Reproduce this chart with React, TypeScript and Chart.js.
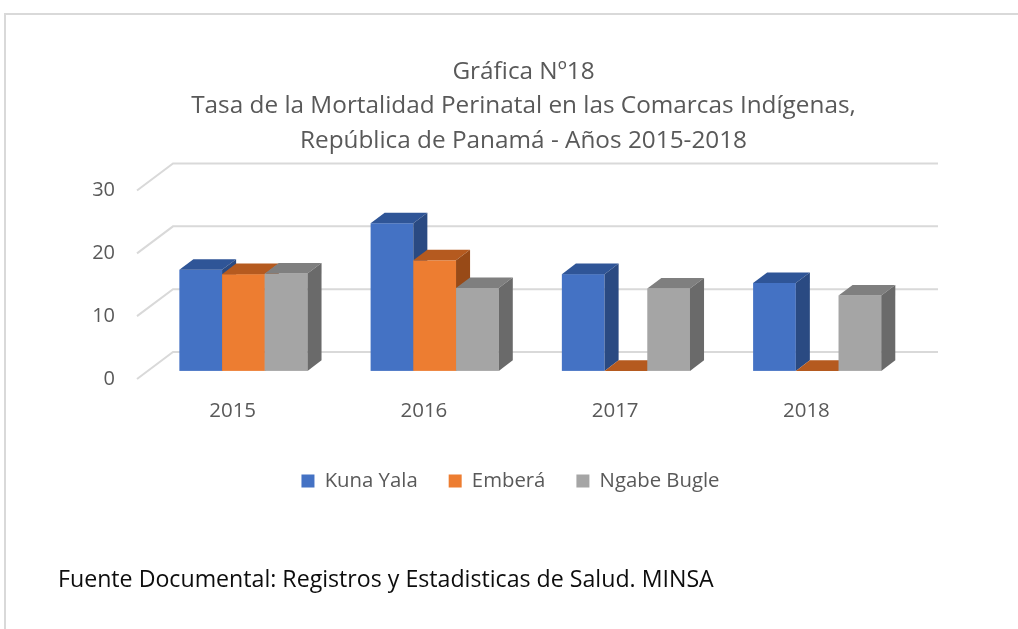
import React, { useEffect, useRef } from "react";
import { Chart, registerables } from "chart.js";

Chart.register(...registerables);

const categories = ["2015", "2016", "2017", "2018"];
const seriesNames = ["Kuna Yala", "Emberá", "Ngabe Bugle"];
const kunaYala = [16.1, 23.5, 15.4, 14.0];
const embera = [15.4, 17.6, 0, 0];
const ngabeBugle = [15.5, 13.2, 13.1, 12.0];
const yMin = 0;
const yMax = 30;
const yStep = 10;
const titleLines = [
  "Gráfica Nº18",
  "Tasa de la Mortalidad Perinatal en las Comarcas Indígenas,",
  "República de Panamá - Años 2015-2018",
];
const sourceNote = "Fuente Documental: Registros y Estadisticas de Salud. MINSA";

const faceColors = ["#4472C4", "#ED7D31", "#A5A5A5"];
const topColors = ["#2F5597", "#B55A1F", "#7F7F7F"];
const sideColors = ["#2A4A82", "#984A17", "#6A6A6A"];

const TEXT = "#595959";
const FONT = "'Open Sans', 'Noto Sans', sans-serif";

// oblique depth of the floor and of the bars
const DEPTH_X = 36;
const DEPTH_Y = 27;
const BAR_FRONT = 0.3;
const BAR_BACK = 0.69;

// vertical layout targets
const CANVAS_H = 629;
const AREA_BOTTOM = 379;
const LEGEND_CENTER = 481;
const LEGEND_PAD = 31;

function fitFontSize(text: string, width: number) {
  const c = document.createElement("canvas").getContext("2d") as CanvasRenderingContext2D;
  c.font = `100px ${FONT}`;
  const w = c.measureText(text).width;
  return w > 0 ? (100 * width) / w : 20;
}

function poly(ctx: CanvasRenderingContext2D, pts: number[][], color: string) {
  ctx.fillStyle = color;
  ctx.beginPath();
  ctx.moveTo(pts[0][0], pts[0][1]);
  for (let i = 1; i < pts.length; i++) ctx.lineTo(pts[i][0], pts[i][1]);
  ctx.closePath();
  ctx.fill();
}

const threeDPlugin = {
  id: "threeD",
  afterLayout(chart: any) {
    if (chart.titleBlock) { chart.titleBlock.left += 4; chart.titleBlock.right += 4; }
    if (chart.legend) { chart.legend.left -= 9; chart.legend.right -= 9; }
  },
  beforeDatasetsDraw(chart: any) {
    const { ctx, chartArea, scales } = chart;
    const ys = scales.y;
    ctx.save();
    ctx.strokeStyle = "#D9D9D9";
    ctx.lineWidth = 2;
    ys.ticks.forEach((t: any) => {
      const py = ys.getPixelForValue(t.value);
      ctx.beginPath();
      ctx.moveTo(chartArea.left, py);
      ctx.lineTo(chartArea.left + DEPTH_X, py - DEPTH_Y);
      ctx.lineTo(chartArea.right + DEPTH_X, py - DEPTH_Y);
      ctx.stroke();
    });
    const fx = BAR_FRONT * DEPTH_X;
    const fy = BAR_FRONT * DEPTH_Y;
    const bx = (BAR_BACK - BAR_FRONT) * DEPTH_X;
    const by = (BAR_BACK - BAR_FRONT) * DEPTH_Y;
    const n = chart.data.labels.length;
    for (let i = 0; i < n; i++) {
      for (let d = 0; d < chart.data.datasets.length; d++) {
        const el = chart.getDatasetMeta(d).data[i];
        const p = el.getProps(["x", "y", "base", "width"], true);
        const x0 = p.x - p.width / 2 + fx;
        const x1 = p.x + p.width / 2 + fx;
        const t = p.y - fy;
        const b = p.base - fy;
        ctx.fillStyle = faceColors[d];
        ctx.fillRect(x0, t, x1 - x0, b - t);
        poly(ctx, [[x0, t], [x1, t], [x1 + bx, t - by], [x0 + bx, t - by]], topColors[d]);
        poly(ctx, [[x1, t], [x1 + bx, t - by], [x1 + bx, b - by], [x1, b]], sideColors[d]);
      }
    }
    ctx.restore();
    return false;
  },
};

export default function App() {
  const canvasRef = useRef<HTMLCanvasElement>(null);
  const noteRef = useRef<HTMLDivElement>(null);

  useEffect(() => {
    if (noteRef.current) {
      noteRef.current.style.fontSize = `${fitFontSize(sourceNote, 656)}px`;
    }
    const titleSize = fitFontSize(titleLines[1], 665);
    const legendSize = fitFontSize(seriesNames[2], 120);
    const itemH = Math.max(legendSize, 13);
    const xAxisH = LEGEND_CENTER - AREA_BOTTOM - LEGEND_PAD - itemH / 2;
    const legendH = itemH + LEGEND_PAD + 10;
    const bottomPad = CANVAS_H - AREA_BOTTOM - xAxisH - legendH;
    const chart = new Chart(canvasRef.current as HTMLCanvasElement, {
      type: "bar",
      data: {
        labels: categories,
        datasets: [kunaYala, embera, ngabeBugle].map((vals, i) => ({
          label: seriesNames[i],
          data: vals,
          backgroundColor: faceColors[i],
          borderWidth: 0,
          categoryPercentage: 0.67,
          barPercentage: 1,
        })),
      },
      options: {
        responsive: false,
        animation: false,
        devicePixelRatio: 1,
        layout: { padding: { left: 80, right: 116, top: 0, bottom: bottomPad } },
        plugins: {
          title: {
            display: true,
            text: titleLines,
            color: TEXT,
            fullSize: false,
            font: { family: FONT, size: titleSize, weight: "normal", lineHeight: 34.5 / titleSize },
            padding: { top: 54.75, bottom: 32.25 },
          },
          legend: {
            position: "bottom",
            fullSize: false,
            labels: {
              boxWidth: 13,
              boxHeight: 13,
              padding: LEGEND_PAD,
              color: TEXT,
              font: { family: FONT, size: legendSize },
            },
          },
          tooltip: { enabled: false },
        },
        scales: {
          x: {
            grid: { display: false, drawTicks: false },
            border: { display: false },
            ticks: { color: TEXT, font: { family: FONT, size: 20.5 }, padding: 20 },
            afterFit: (s: any) => { s.height = xAxisH; },
          },
          y: {
            min: yMin,
            max: yMax,
            grid: { display: false, drawTicks: false },
            border: { display: false },
            ticks: { stepSize: yStep, color: TEXT, font: { family: FONT, size: 20 }, padding: 22 },
            afterFit: (s: any) => { s.width = 57; },
          },
        },
      },
      plugins: [threeDPlugin],
    } as any);
    return () => chart.destroy();
  }, []);

  return (
    <div style={{ position: "absolute", left: 0, top: 0, width: 1018, height: 629, overflow: "hidden", background: "#fff" }}>
      <div style={{ position: "absolute", left: 4, top: 13, width: 1100, height: 700, borderTop: "2px solid #D9D9D9", borderLeft: "2px solid #D9D9D9" }} />
      <canvas ref={canvasRef} width={1018} height={629} style={{ position: "absolute", left: 0, top: 0, width: 1018, height: 629 }} />
      <div ref={noteRef} style={{ position: "absolute", left: 58, top: 564, whiteSpace: "nowrap", fontFamily: FONT, fontSize: 21, lineHeight: "29px", color: "#0D0D0D" }}>
        {sourceNote}
      </div>
    </div>
  );
}
